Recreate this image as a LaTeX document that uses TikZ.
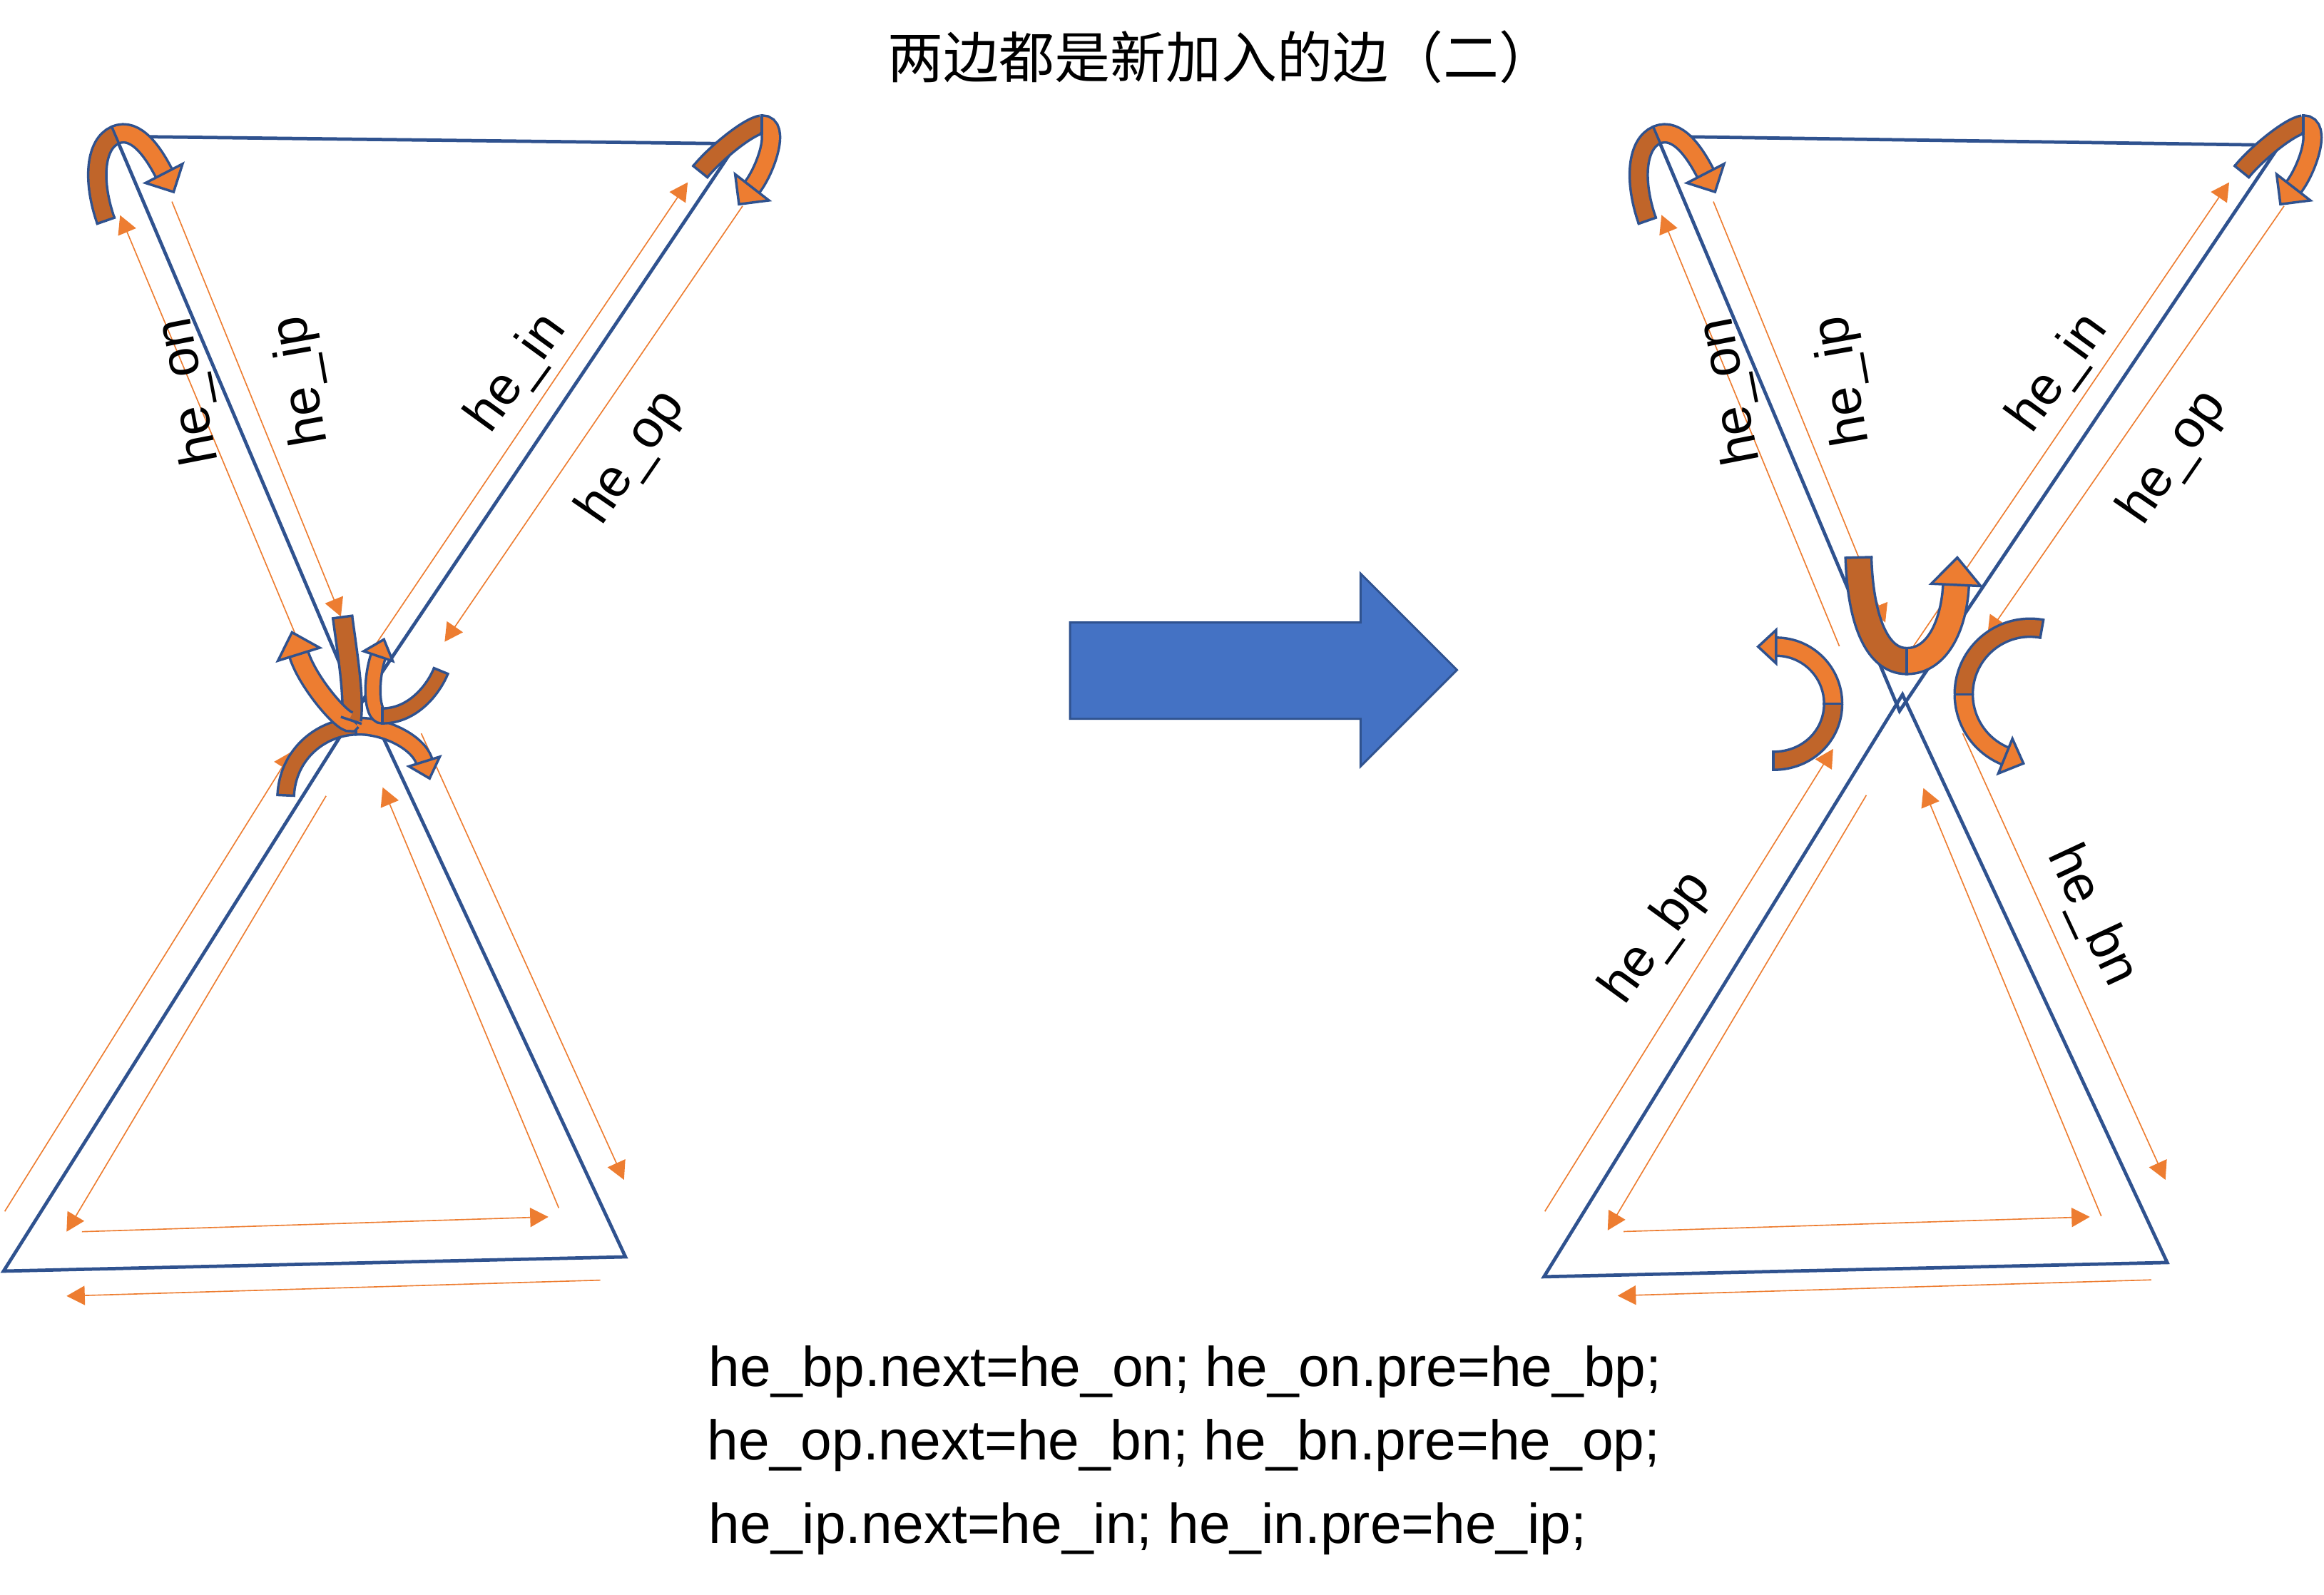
\documentclass[tikz,border=0pt]{standalone}
\usepackage{fontspec}
\setmainfont{Liberation Sans}
\newfontfamily\cjkfont{Noto Sans CJK SC}
\usetikzlibrary{calc,arrows.meta}
\definecolor{edgeb}{HTML}{2F528F}
\definecolor{orl}{HTML}{ED7D31}
\definecolor{ord}{HTML}{C0652A}
\definecolor{bigb}{HTML}{4472C4}

% curved ribbon arrow: #1 prefix of 7 coordinates (a..g), #2 band width, #3 head half width, #4 head length
\newcommand\carrow[4]{%
  \pgfmathsetlengthmacro\capw{(#2+0.95pt)/2}%
  \draw[draw=edgeb,line width=0.95pt,double=ord,double distance=#2] (#1a) .. controls (#1b) and (#1c) .. (#1d);
  \draw[edgeb,line width=0.95pt,line cap=rect] ($(#1a)!\capw!90:(#1b)$) -- ($(#1a)!\capw!-90:(#1b)$);
  \draw[draw=edgeb,line width=0.95pt,double=orl,double distance=#2] (#1d) .. controls (#1e) and (#1f) .. (#1g);
  \draw[edgeb,line width=0.95pt,line cap=rect] ($(#1d)!\capw!90:(#1e)$) -- ($(#1d)!\capw!-90:(#1e)$);
  \filldraw[fill=orl,draw=edgeb,line width=0.95pt,line join=miter] ($(#1g)!#3!90:(#1f)$) -- ($(#1g)!-#4!(#1f)$) -- ($(#1g)!#3!-90:(#1f)$) -- cycle;
}

% the two corner hooks of one figure, shifted by #1
\newcommand\hooks[1]{%
  \coordinate (ha) at (71.4+#1,148.9);
  \coordinate (hb) at (62+#1,122);
  \coordinate (hc) at (64+#1,97);
  \coordinate (hd) at (77.8+#1,91.1);
  \coordinate (he) at (92+#1,85);
  \coordinate (hf) at (104+#1,104);
  \coordinate (hg) at (110.7+#1,117);
  \carrow{h}{6pt}{8pt}{8pt}
  \coordinate (ka) at (472.5+#1,115.8);
  \coordinate (kb) at (482+#1,104);
  \coordinate (kc) at (505+#1,85);
  \coordinate (kd) at (514+#1,84);
  \coordinate (ke) at (527+#1,84);
  \coordinate (kf) at (517+#1,114);
  \coordinate (kg) at (507.4+#1,126.4);
  \carrow{k}{6pt}{8.2pt}{8.2pt}
}

\tikzset{
  gedge/.style={draw=edgeb,line width=1.3pt,line join=miter},
  half/.style={draw=orl,line width=0.45pt,-{Triangle[length=7pt,width=7.4pt]}},
  lbl/.style={font=\fontsize{20.5}{24}\selectfont,inner sep=0pt},
  eqn/.style={font=\fontsize{21.5}{26}\selectfont,inner sep=0pt,anchor=base west},
}

\begin{document}
\begin{tikzpicture}[x=0.02cm,y=-0.02cm]
\useasboundingbox (0,0) rectangle (1568,1076);

% title
\node[font=\cjkfont\fontsize{21.35}{26}\selectfont,inner sep=0pt] (title) at (824,38.5) {两边都是新加入的边（二）};

% ---------- graph vertices ----------
\coordinate (LA) at (78,92);
\coordinate (LB) at (497,97);
\coordinate (LC) at (241.8,477.3);
\coordinate (LD) at (246,470.7);
\coordinate (LE) at (2.4,857.6);
\coordinate (LF) at (422,848);
\coordinate (RA) at (1118,92);
\coordinate (RB) at (1538,98);
\coordinate (RC) at (1281.6,479.7);
\coordinate (RD) at (1283.6,468.6);
\coordinate (RE) at (1041.7,861.4);
\coordinate (RF) at (1462.2,851.8);

\draw[gedge] (LA) -- (LB) -- (LC) -- cycle;
\draw[gedge] (LD) -- (LE) -- (LF) -- cycle;
\draw[gedge] (RA) -- (RB) -- (RC) -- cycle;
\draw[gedge] (RD) -- (RE) -- (RF) -- cycle;

% ---------- half edges, left ----------
\draw[half] (201,432) -- (81,145.2);
\draw[half] (116,136) -- (230,416);
\draw[half] (254,434) -- (464,123);
\draw[half] (501,139) -- (300,433);
\draw[half] (3.2,817.3) -- (197,507);
\draw[half] (220,537) -- (44.9,831);
\draw[half] (55.3,831) -- (370,821);
\draw[half] (405,863.7) -- (44.9,874.4);
\draw[half] (377,815) -- (258.2,531.2);
\draw[half] (284.2,494.8) -- (421,796);

% ---------- half edges, right ----------
\draw[half] (1241,436) -- (1121,145);
\draw[half] (1156,136) -- (1272,420);
\draw[half] (1291,436) -- (1504,123);
\draw[half] (1541,139) -- (1341,428);
\draw[half] (1042.3,817.3) -- (1236.8,505.3);
\draw[half] (1259.2,536.5) -- (1084.7,830.1);
\draw[half] (1095.4,830.9) -- (1410,821);
\draw[half] (1451.4,863.5) -- (1091.4,874.2);
\draw[half] (1417.7,820.5) -- (1297.7,531.7);
\draw[half] (1324.2,494.8) -- (1461,796);

% ---------- corner hooks ----------
\hooks{0}
\hooks{1040}

% ---------- left crossing arrows ----------
\coordinate (cca) at (192.8,536.6);
\coordinate (ccb) at (194,510);
\coordinate (ccc) at (215,491);
\coordinate (ccd) at (240,490);
\coordinate (cce) at (258,489);
\coordinate (ccf) at (282,500);
\coordinate (ccg) at (286.3,513.8);
\carrow{cc}{5.4pt}{6.2pt}{6.8pt}

\coordinate (caa) at (231.1,416.3);
\coordinate (cab) at (235,445);
\coordinate (cac) at (239,470);
\coordinate (cad) at (237,486);
\coordinate (cae) at (235,492);
\coordinate (caf) at (208,462);
\coordinate (cag) at (201.6,441.4);
\carrow{ca}{6.5pt}{8.4pt}{8.8pt}

\coordinate (cba) at (297.5,452.7);
\coordinate (cbb) at (292,466);
\coordinate (cbc) at (278,483);
\coordinate (cbd) at (258,483);
\coordinate (cbe) at (250,483);
\coordinate (cbf) at (250,458);
\coordinate (cbg) at (255.2,442.7);
\carrow{cb}{4.8pt}{5.9pt}{6.8pt}

% ---------- right crossing arrows ----------
\coordinate (cda) at (1253.9,376.1);
\coordinate (cdb) at (1255,415);
\coordinate (cdc) at (1265,446);
\coordinate (cdd) at (1286.5,446);
\coordinate (cde) at (1308,446);
\coordinate (cdf) at (1318.5,420);
\coordinate (cdg) at (1319.7,394.6);
\carrow{cd}{9pt}{9.5pt}{10.5pt}

\coordinate (cea) at (1196.5,513.3);
\coordinate (ceb) at (1219.6,513.3);
\coordinate (cec) at (1236.8,496.1);
\coordinate (ced) at (1236.8,474.8);
\coordinate (cee) at (1236.8,453.5);
\coordinate (cef) at (1219.6,436.3);
\coordinate (ceg) at (1198.3,436.3);
\carrow{ce}{6pt}{6.4pt}{6.9pt}

\coordinate (cfa) at (1377.6,424.2);
\coordinate (cfb) at (1350.1,419.3);
\coordinate (cfc) at (1324.9,440.4);
\coordinate (cfd) at (1324.9,468.4);
\coordinate (cfe) at (1324.9,486.7);
\coordinate (cff) at (1336,503.2);
\coordinate (cfg) at (1353,510.1);
\carrow{cf}{6pt}{7.2pt}{7.5pt}

% ---------- big arrow ----------
\filldraw[fill=bigb,draw=edgeb,line width=0.8pt,line join=miter]
  (722,420) -- (918,420) -- (918,387) -- (983,452) -- (918,517) -- (918,485) -- (722,485) -- cycle;

% ---------- labels ----------
\node[lbl,rotate=101] (lon) at (128,264) {he\_on};
\node[lbl,rotate=100] (lip) at (204,257) {he\_ip};
\node[lbl,rotate=54] (lin) at (349,252) {he\_in};
\node[lbl,rotate=55.5] (lop) at (426.5,309) {he\_op};
\node[lbl,rotate=101] (ron) at (1168,264) {he\_on};
\node[lbl,rotate=100] (rip) at (1244,257) {he\_ip};
\node[lbl,rotate=54] (rin) at (1389,252) {he\_in};
\node[lbl,rotate=55.5] (rop) at (1466.5,309) {he\_op};
\node[lbl,rotate=54] (rbp) at (1118,633) {he\_bp};
\node[lbl,rotate=-65] (rbn) at (1411,618) {he\_bn};

% ---------- code lines ----------
\node[eqn] (eq1) at (478,935.2) {he\_bp.next=he\_on; he\_on.pre=he\_bp;};
\node[eqn] (eq2) at (477,984.9) {he\_op.next=he\_bn; he\_bn.pre=he\_op;};
\node[eqn] (eq3) at (478,1041.1) {he\_ip.next=he\_in; he\_in.pre=he\_ip;};
\end{tikzpicture}
\end{document}
